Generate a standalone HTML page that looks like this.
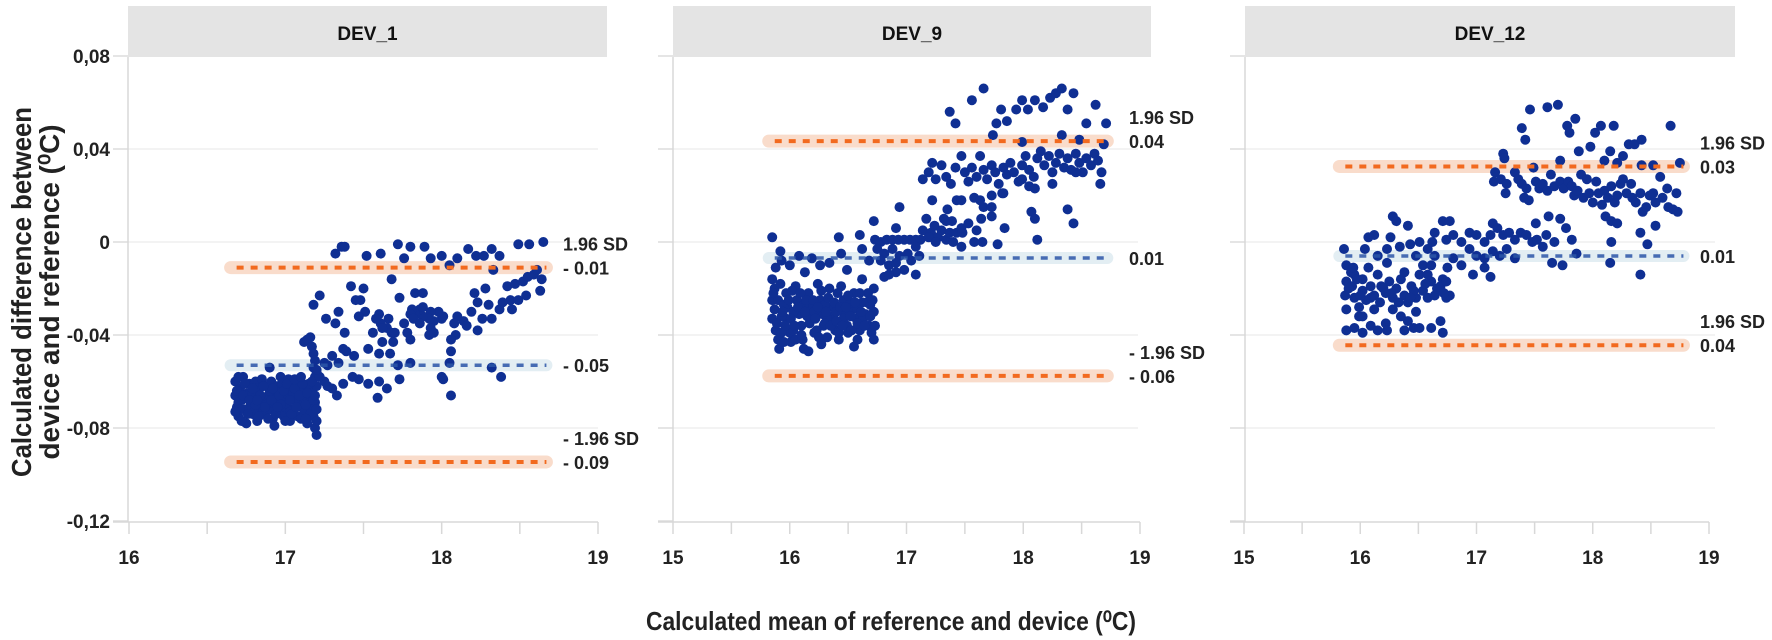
<!DOCTYPE html>
<html><head><meta charset="utf-8"><style>
html,body{margin:0;padding:0;background:#fff;}
svg{display:block;font-family:"Liberation Sans",sans-serif;}
</style></head><body>
<svg id="chart" width="1772" height="640" viewBox="0 0 1772 640">
<text x="31" y="292" transform="rotate(-90 31 292)" text-anchor="middle" font-size="28" font-weight="bold" fill="#222" textLength="370" lengthAdjust="spacingAndGlyphs">Calculated difference between</text>
<text x="59" y="292" transform="rotate(-90 59 292)" text-anchor="middle" font-size="28" font-weight="bold" fill="#222" textLength="335" lengthAdjust="spacingAndGlyphs">device and reference (⁰C)</text>
<text x="891" y="630" text-anchor="middle" font-size="26" font-weight="bold" fill="#222" textLength="490" lengthAdjust="spacingAndGlyphs">Calculated mean of reference and device (⁰C)</text>
</svg>
<script>
const yTicks = [0.08, 0.04, 0, -0.04, -0.08, -0.12];
const yTickLabels = ["0,08", "0,04", "0", "-0,04", "-0,08", "-0,12"];
const panelNames = ["DEV_1", "DEV_9", "DEV_12"];
const xTicks1 = [16, 17, 18, 19];
const xTicks2 = [15, 16, 17, 18, 19];
const xTicks3 = [15, 16, 17, 18, 19];
const upper1 = -0.011, mean1 = -0.053, lower1 = -0.0946;
const upper2 = 0.0434, mean2 = -0.0069, lower2 = -0.0576;
const upper3 = 0.0325, mean3 = -0.006, lower3 = -0.0444;
const lineRange1 = [16.65, 18.67];
const lineRange2 = [15.82, 18.72];
const lineRange3 = [15.82, 18.78];
const labels1 = [["1.96 SD", "- 0.01"], ["- 0.05"], ["- 1.96 SD", "- 0.09"]];
const labels2 = [["1.96 SD", "0.04"], ["0.01"], ["- 1.96 SD", "- 0.06"]];
const labels3 = [["1.96 SD", "0.03"], ["0.01"], ["1.96 SD", "0.04"]];

const points1 = [[16.68,-0.060],[16.68,-0.066],[16.69,-0.071],[16.70,-0.075],[16.71,-0.063],[16.72,-0.068],[16.73,-0.058],[16.74,-0.072],[16.75,-0.078],[16.76,-0.065],[16.77,-0.061],[16.78,-0.070],[16.79,-0.074],[16.80,-0.067],[16.81,-0.060],[16.82,-0.077],[16.83,-0.064],[16.84,-0.071],[16.85,-0.059],[16.86,-0.068],[16.87,-0.074],[16.88,-0.062],[16.89,-0.066],[16.90,-0.072],[16.91,-0.060],[16.92,-0.076],[16.93,-0.065],[16.94,-0.069],[16.95,-0.062],[16.96,-0.073],[16.97,-0.058],[16.98,-0.067],[16.99,-0.075],[17.00,-0.063],[17.01,-0.070],[17.02,-0.066],[17.03,-0.077],[17.04,-0.061],[17.05,-0.072],[17.06,-0.068],[17.07,-0.064],[17.08,-0.075],[17.09,-0.060],[17.10,-0.070],[17.11,-0.066],[17.12,-0.073],[17.13,-0.062],[17.14,-0.078],[17.15,-0.067],[17.16,-0.071],[17.17,-0.064],[17.18,-0.075],[17.19,-0.069],[17.19,-0.080],[17.20,-0.083],[17.20,-0.062],[17.19,-0.058],[16.70,-0.069],[16.80,-0.073],[16.90,-0.064],[17.00,-0.071],[17.10,-0.063],[16.75,-0.066],[16.85,-0.070],[16.95,-0.067],[17.05,-0.065],[17.15,-0.061],[16.72,-0.077],[16.78,-0.066],[16.88,-0.070],[16.98,-0.061],[17.08,-0.068],[17.17,-0.072],[16.82,-0.063],[16.92,-0.069],[17.02,-0.059],[17.12,-0.069],[16.93,-0.079],[17.03,-0.073],
[16.69,-0.064],[16.71,-0.072],[16.73,-0.066],[16.74,-0.061],[16.76,-0.074],[16.77,-0.068],[16.79,-0.063],[16.81,-0.070],[16.83,-0.075],[16.84,-0.066],[16.86,-0.062],[16.87,-0.071],[16.89,-0.076],[16.91,-0.068],[16.92,-0.063],[16.94,-0.074],[16.96,-0.066],[16.97,-0.070],[16.99,-0.064],[17.00,-0.077],[17.01,-0.061],[17.03,-0.068],[17.04,-0.074],[17.06,-0.063],[17.07,-0.071],[17.09,-0.066],[17.10,-0.076],[17.11,-0.061],[17.13,-0.070],[17.14,-0.065],[17.16,-0.074],[17.17,-0.060],[17.18,-0.068],[17.20,-0.072],[17.20,-0.077],[17.19,-0.066],[16.68,-0.073],[16.70,-0.058],[16.82,-0.068],[16.95,-0.071],[17.06,-0.059],[17.13,-0.076],
[17.12,-0.043],[17.14,-0.042],[17.16,-0.041],[17.17,-0.045],[17.18,-0.048],[17.19,-0.051],[17.18,-0.054],[17.20,-0.056],
[17.32,-0.005],[17.36,-0.002],[17.38,-0.002],[17.52,-0.006],[17.61,-0.005],[17.72,-0.001],[17.76,-0.007],[17.80,-0.002],[17.89,-0.002],[17.93,-0.007],[18.00,-0.006],[18.10,-0.007],[18.17,-0.003],[18.22,-0.006],[18.27,-0.006],[18.32,-0.003],[18.37,-0.006],[18.49,-0.001],[18.56,-0.001],[18.65,0.000],
[18.05,-0.010],[18.33,-0.012],[18.42,-0.019],[18.47,-0.018],[18.52,-0.017],[18.55,-0.015],[18.59,-0.014],[18.61,-0.012],[18.64,-0.016],[18.63,-0.021],[18.54,-0.023],[18.44,-0.025],[18.37,-0.029],[18.30,-0.027],[18.28,-0.020],[18.21,-0.022],[18.23,-0.026],[18.19,-0.030],[18.26,-0.033],[18.32,-0.033],[18.14,-0.034],[18.16,-0.036],[18.23,-0.038],[18.10,-0.032],[18.08,-0.035],[18.09,-0.040],[18.06,-0.042],[18.06,-0.047],[18.05,-0.052],[18.00,-0.058],[18.06,-0.066],[18.00,-0.033],[18.01,-0.032],[17.98,-0.030],[17.93,-0.030],[17.95,-0.034],[17.92,-0.033],[17.93,-0.037],[17.92,-0.040],[17.88,-0.032],[17.86,-0.029],[17.83,-0.031],[17.81,-0.029],[17.80,-0.031],[17.82,-0.033],[17.86,-0.035],[17.88,-0.028],[17.83,-0.022],[17.88,-0.022],[17.73,-0.024],[17.76,-0.035],[17.78,-0.039],[17.80,-0.042],[17.68,-0.016],[17.66,-0.033],[17.65,-0.037],[17.68,-0.039],[17.70,-0.039],[17.69,-0.043],[17.61,-0.035],[17.60,-0.031],[17.58,-0.033],[17.56,-0.039],[17.62,-0.037],[17.62,-0.043],[17.51,-0.030],[17.47,-0.032],[17.48,-0.025],[17.45,-0.025],[17.50,-0.020],[17.42,-0.019],[17.34,-0.030],[17.32,-0.035],[17.26,-0.033],[17.22,-0.023],[17.18,-0.027],[17.38,-0.039],[17.37,-0.046],[17.39,-0.047],[17.44,-0.049],[17.53,-0.046],[17.60,-0.048],[17.67,-0.048],[17.72,-0.053],[17.80,-0.052],[17.73,-0.059],[17.65,-0.063],[17.59,-0.067],[17.60,-0.060],[17.53,-0.061],[17.47,-0.059],[17.43,-0.058],[17.37,-0.061],[17.33,-0.066],[17.30,-0.063],[17.27,-0.062],[17.25,-0.060],[17.22,-0.058],[17.20,-0.055],[17.30,-0.049],[17.25,-0.052],[17.27,-0.053],[17.34,-0.052],[17.10,-0.058],[16.90,-0.054],[18.32,-0.054],[18.38,-0.058],[18.01,-0.059],[17.95,-0.039],[18.45,-0.029],[18.49,-0.025],[18.39,-0.026]];

const points2 = [[15.85,0.002],[15.92,-0.004],[15.88,-0.011],[15.93,-0.008],[16.08,-0.006],[16.19,-0.007],[16.00,-0.010],[16.13,-0.013],[16.26,-0.010],[16.34,-0.009],[16.44,-0.005],[16.49,-0.012],[16.62,-0.003],[16.68,-0.008],[16.62,-0.016],[16.72,-0.020],[15.85,-0.016],[15.87,-0.020],[15.85,-0.025],[15.87,-0.029],[15.85,-0.033],[15.88,-0.038],[15.90,-0.042],[15.91,-0.046],[15.97,-0.022],[15.98,-0.028],[15.97,-0.033],[16.00,-0.039],[16.01,-0.043],[16.05,-0.019],[16.06,-0.025],[16.08,-0.031],[16.10,-0.036],[16.11,-0.042],[16.16,-0.047],[16.16,-0.022],[16.18,-0.028],[16.19,-0.033],[16.21,-0.039],[16.24,-0.018],[16.26,-0.025],[16.28,-0.031],[16.29,-0.036],[16.32,-0.041],[16.34,-0.020],[16.36,-0.028],[16.37,-0.032],[16.39,-0.038],[16.42,-0.042],[16.44,-0.019],[16.46,-0.025],[16.47,-0.031],[16.49,-0.036],[16.50,-0.039],[16.55,-0.022],[16.54,-0.029],[16.57,-0.033],[16.55,-0.045],[16.60,-0.038],[16.62,-0.026],[16.65,-0.031],[16.67,-0.022],[16.68,-0.036],[16.70,-0.039],[16.72,-0.042],[16.72,-0.030],[15.90,-0.025],[15.93,-0.032],[16.03,-0.038],[16.15,-0.032],[16.32,-0.033],[16.46,-0.033],[16.63,-0.033],[16.23,-0.038],[16.42,-0.039],[16.05,-0.042],[15.93,-0.039],[15.95,-0.027],[16.03,-0.030],[16.12,-0.027],[16.21,-0.030],[16.30,-0.027],[16.40,-0.030],[16.52,-0.026],[16.58,-0.029],[16.69,-0.027],
[15.86,-0.022],[15.89,-0.035],[15.92,-0.018],[15.94,-0.030],[15.96,-0.036],[15.99,-0.025],[16.01,-0.033],[16.02,-0.021],[16.04,-0.036],[16.07,-0.028],[16.09,-0.022],[16.10,-0.040],[16.13,-0.030],[16.14,-0.025],[16.17,-0.035],[16.20,-0.025],[16.22,-0.033],[16.24,-0.028],[16.25,-0.041],[16.27,-0.021],[16.30,-0.035],[16.31,-0.030],[16.33,-0.024],[16.35,-0.036],[16.38,-0.026],[16.40,-0.034],[16.41,-0.022],[16.43,-0.028],[16.45,-0.036],[16.48,-0.028],[16.50,-0.023],[16.52,-0.032],[16.53,-0.038],[16.56,-0.026],[16.58,-0.035],[16.60,-0.022],[16.61,-0.030],[16.64,-0.036],[16.66,-0.026],[16.69,-0.032],[16.71,-0.025],[16.73,-0.036],[16.27,-0.044],[16.12,-0.046],[15.95,-0.043],[16.58,-0.042],
[16.73,0.001],[16.78,0.000],[16.83,0.001],[16.88,0.001],[16.93,0.001],[16.98,0.001],[17.03,0.001],[17.08,0.001],[17.12,0.001],[16.75,-0.003],[16.81,-0.005],[16.88,-0.003],[16.94,-0.006],[17.01,-0.005],[17.08,-0.002],[16.78,-0.008],[16.85,-0.010],[16.91,-0.009],[16.98,-0.012],[16.81,-0.015],[16.91,-0.013],[17.04,-0.008],[17.11,-0.006],
[17.14,0.005],[17.17,0.010],[17.21,0.004],[17.24,0.007],[17.27,0.002],[17.30,0.005],[17.34,0.001],[17.37,0.004],[17.40,0.000],[17.43,0.004],[17.47,-0.002],[17.19,0.002],[17.25,0.000],[17.32,0.010],[17.39,0.009],[17.48,0.004],
[16.94,0.015],[16.72,0.009],[16.91,0.006],[16.42,0.002],[16.60,0.003],[17.22,0.018],[17.35,0.014],[17.43,0.018],[17.58,0.019],[17.66,0.015],[17.73,0.020],[17.82,0.021],[18.07,0.013],[18.10,0.010],[18.12,0.001],[17.84,0.006],[17.78,-0.001],[18.38,0.014],[18.43,0.008],[17.65,0.000],[17.58,0.000],[17.08,-0.014],[16.85,-0.014],[17.64,0.010],[17.73,0.011],[17.60,0.005],[17.47,0.006],[17.34,0.009],[17.53,0.008],
[17.14,0.027],[17.19,0.030],[17.22,0.034],[17.25,0.027],[17.30,0.033],[17.34,0.028],[17.38,0.025],[17.42,0.032],[17.47,0.037],[17.50,0.030],[17.53,0.026],[17.56,0.032],[17.60,0.028],[17.63,0.037],[17.66,0.031],[17.69,0.027],[17.73,0.033],[17.76,0.030],[17.79,0.025],[17.83,0.032],[17.86,0.029],[17.89,0.034],[17.92,0.030],[17.96,0.026],[17.99,0.033],[18.02,0.037],[18.05,0.031],[18.09,0.028],[18.12,0.036],[18.15,0.039],[18.18,0.033],[18.22,0.037],[18.25,0.030],[18.28,0.034],[18.31,0.038],[18.35,0.032],[18.38,0.036],[18.41,0.031],[18.45,0.038],[18.48,0.034],[18.51,0.030],[18.54,0.036],[18.58,0.033],[18.61,0.038],[18.64,0.035],[18.67,0.030],[18.66,0.025],[18.69,0.042],[18.05,0.024],[18.10,0.023],[17.83,0.021],[17.63,0.018],[17.73,0.015],[17.47,0.018],[17.99,0.027],[18.25,0.025],[18.45,0.030],
[17.37,0.056],[17.42,0.051],[17.56,0.061],[17.66,0.066],[17.81,0.057],[17.86,0.052],[17.94,0.057],[17.99,0.061],[18.04,0.057],[18.10,0.061],[18.17,0.058],[18.23,0.062],[18.28,0.064],[18.33,0.066],[18.38,0.057],[18.43,0.064],[18.54,0.051],[18.62,0.059],[18.71,0.051],[17.74,0.046],[17.99,0.043],[18.33,0.046],[18.48,0.044],[17.77,0.051]];

const points3 = [[17.46,0.057],[17.61,0.058],[17.70,0.059],[17.39,0.049],[17.42,0.044],[17.78,0.050],[17.85,0.053],[17.80,0.047],[18.02,0.047],[18.07,0.050],[18.18,0.050],[17.98,0.041],[17.88,0.039],[18.15,0.039],[18.26,0.037],[18.31,0.042],[18.36,0.042],[18.42,0.044],[18.67,0.050],[17.23,0.038],[17.24,0.036],[17.72,0.035],[18.10,0.035],[18.21,0.034],[18.42,0.033],[18.52,0.033],[18.75,0.034],
[17.16,0.030],[17.15,0.026],[17.21,0.027],[17.26,0.025],[17.25,0.021],[17.33,0.030],[17.36,0.027],[17.39,0.025],[17.43,0.023],[17.41,0.019],[17.45,0.018],[17.49,0.032],[17.51,0.026],[17.54,0.023],[17.57,0.025],[17.61,0.022],[17.64,0.029],[17.67,0.024],[17.72,0.026],[17.75,0.023],[17.79,0.026],[17.82,0.024],[17.84,0.020],[17.87,0.022],[17.90,0.029],[17.92,0.019],[17.95,0.027],[17.97,0.021],[18.00,0.017],[18.03,0.026],[18.05,0.021],[18.08,0.016],[18.10,0.022],[18.13,0.019],[18.16,0.024],[18.19,0.017],[18.21,0.020],[18.24,0.025],[18.26,0.027],[18.29,0.021],[18.33,0.025],[18.34,0.019],[18.37,0.017],[18.41,0.021],[18.43,0.013],[18.46,0.015],[18.49,0.020],[18.52,0.021],[18.54,0.017],[18.54,0.007],[18.58,0.028],[18.60,0.019],[18.64,0.023],[18.65,0.015],[18.69,0.014],[18.72,0.021],[18.73,0.013],[18.11,0.011],[18.16,0.009],[18.21,0.008],[18.41,0.004],[17.62,0.011],[17.72,0.010],[17.77,0.006],[17.82,0.001],[18.16,0.000],[18.47,-0.001],[18.41,-0.014],[18.15,-0.009],[17.65,-0.009],[17.74,-0.010],[17.51,0.008],[17.60,0.003],[17.67,0.000],[17.86,-0.005],
[16.71,0.009],[16.77,0.009],[16.64,0.004],[16.74,0.001],[16.80,0.003],[16.87,0.000],[16.94,0.004],[17.00,0.003],[17.07,0.000],[17.12,0.003],[17.14,0.008],[17.18,0.006],[17.23,0.003],[17.28,0.004],[17.33,0.001],[17.38,0.004],[17.43,0.003],[17.48,0.000],[17.52,0.001],[17.57,-0.002],[16.94,-0.003],[17.00,-0.006],[17.07,-0.007],[17.14,-0.004],[17.20,-0.006],[17.26,-0.003],[17.33,-0.007],[16.97,-0.014],[17.12,-0.015],[17.07,-0.011],[16.87,-0.010],[16.80,-0.007],[16.75,-0.011],[16.71,-0.016],[16.64,-0.006],[16.58,-0.003],[16.62,0.000],[16.51,0.000],[16.43,-0.001],[16.41,0.007],[16.28,0.011],[16.31,0.009],[16.26,0.002],[16.12,0.003],[16.04,-0.003],[16.15,-0.006],[16.23,-0.003],[16.34,-0.002],[16.48,-0.006],[16.54,-0.010],[16.61,-0.010],
[15.86,-0.003],[15.88,-0.010],[15.92,-0.013],[15.88,-0.017],[15.93,-0.019],[15.87,-0.023],[15.95,-0.024],[15.88,-0.029],[15.99,-0.028],[16.02,-0.016],[16.07,-0.011],[16.09,-0.019],[16.12,-0.023],[16.15,-0.014],[16.17,-0.026],[16.22,-0.022],[16.25,-0.017],[16.28,-0.024],[16.31,-0.020],[16.35,-0.016],[16.38,-0.023],[16.41,-0.026],[16.44,-0.019],[16.48,-0.024],[16.51,-0.014],[16.54,-0.021],[16.58,-0.024],[16.61,-0.017],[16.64,-0.023],[16.69,-0.019],[16.74,-0.024],[16.12,-0.029],[16.28,-0.029],[16.48,-0.030],[15.99,-0.032],[15.88,-0.038],[15.95,-0.037],[16.02,-0.039],[16.09,-0.036],[16.15,-0.038],[16.22,-0.035],[16.23,-0.038],[16.38,-0.038],[16.41,-0.034],[16.46,-0.037],[16.51,-0.037],[16.61,-0.037],[16.71,-0.039],[16.69,-0.034],[16.35,-0.032],[16.02,-0.032],[16.09,-0.024],[15.95,-0.014],[16.02,-0.021],[15.94,-0.011],[16.18,-0.019],[16.38,-0.013],[16.58,-0.014],[16.74,-0.017],[16.77,-0.023],[16.23,-0.009],[16.07,0.002],
[15.90,-0.020],[15.97,-0.016],[16.05,-0.025],[16.20,-0.020],[16.33,-0.026],[16.46,-0.021],[16.56,-0.018],[16.66,-0.020],[16.72,-0.022],[16.00,-0.023],[16.27,-0.022],[16.43,-0.024]];

const NS = "http://www.w3.org/2000/svg";
const svg = document.getElementById("chart");
function mk(tag, attrs, parent) {
  const e = document.createElementNS(NS, tag);
  for (const k in attrs) e.setAttribute(k, attrs[k]);
  (parent || svg).appendChild(e);
  return e;
}
function yScale(v) { return 242 - v * 2325; }

const panels = [
  {name: panelNames[0], left: 128, headerRight: 607, gridRight: 598, x0: 129, xmin: 16, xmax: 19, ticks: xTicks1, pts: points1, lines: [upper1, mean1, lower1], range: lineRange1, labels: labels1, labelX: 563, showY: true},
  {name: panelNames[1], left: 673, headerRight: 1151, gridRight: 1138, x0: 673, xmin: 15, xmax: 19, ticks: xTicks2, pts: points2, lines: [upper2, mean2, lower2], range: lineRange2, labels: labels2, labelX: 1129, showY: false},
  {name: panelNames[2], left: 1245, headerRight: 1735, gridRight: 1715, x0: 1244, xmin: 15, xmax: 19, ticks: xTicks3, pts: points3, lines: [upper3, mean3, lower3], range: lineRange3, labels: labels3, labelX: 1700, showY: false}
];
const x1Px = [598, 1140, 1709];

panels.forEach((p, i) => {
  const g = mk("g", {});
  
  
  const xs = v => p.x0 + (v - p.xmin) * (x1Px[i] - p.x0) / (p.xmax - p.xmin);
  const hdr = mk("rect", {x: p.left, y: 6, width: p.headerRight - p.left, height: 51, fill: "#e4e4e4"}, g);
  
  
  const ht = mk("text", {x: (p.left + p.headerRight) / 2, y: 40, "text-anchor": "middle", "font-size": 19, "font-weight": "bold", fill: "#111"}, g);
  ht.textContent = p.name;
  
  
  yTicks.forEach((t, k) => {
    const y = yScale(t);
    if (k > 0 && k < yTicks.length - 1) {
      const gl = mk("line", {x1: p.left, x2: p.gridRight, y1: y, y2: y, stroke: "#efefef", "stroke-width": 1.5}, g);
      
      
    }
    const tk = mk("line", {x1: p.left - 15, x2: p.left, y1: y, y2: y, stroke: "#dcdcdc", "stroke-width": 1.5}, g);
    
    
    if (p.showY) {
      const tl = mk("text", {x: p.left - 18, y: y + 7, "text-anchor": "end", "font-size": 19, "font-weight": "bold", fill: "#222"}, g);
      tl.textContent = yTickLabels[k];
      
      
    }
  });
  const ya = mk("line", {x1: p.left, x2: p.left, y1: 57, y2: 522, stroke: "#d8d8d8", "stroke-width": 1.5}, g);
  
  
  const xa = mk("line", {x1: p.left - 15, x2: xs(p.xmax), y1: 522, y2: 522, stroke: "#d8d8d8", "stroke-width": 1.5}, g);
  
  
  for (let v = p.xmin; v <= p.xmax + 0.001; v += 0.5) {
    const mt = mk("line", {x1: xs(v), x2: xs(v), y1: 522, y2: 534, stroke: "#d8d8d8", "stroke-width": 1.5}, g);
    
    
  }
  p.ticks.forEach(t => {
    const tl = mk("text", {x: xs(t), y: 564, "text-anchor": "middle", "font-size": 19, "font-weight": "bold", fill: "#222"}, g);
    tl.textContent = String(t);
    
    
  });
  const styles = [
    {band: "#f9dccb", col: "#f26a1f", dash: "7 7", w: 4, bw: 13},
    {band: "#e3eef3", col: "#2c56a8", dash: "7 7", w: 3.5, bw: 12},
    {band: "#f9dccb", col: "#f26a1f", dash: "7 7", w: 4, bw: 13}
  ];
  const names = ["upper-limit-of-agreement", "mean-difference-line", "lower-limit-of-agreement"];
  p.lines.forEach((v, k) => {
    const s = styles[k];
    const y = yScale(v);
    const b = mk("line", {x1: xs(p.range[0]), x2: xs(p.range[1]), y1: y, y2: y, stroke: s.band, "stroke-width": s.bw, "stroke-linecap": "round"}, g);
    
    
  });
  const pg = mk("g", {fill: "#0f2f93"}, g);
  
  
  p.pts.forEach(pt => {
    const c = mk("circle", {cx: xs(pt[0]).toFixed(1), cy: yScale(pt[1]).toFixed(1), r: 5}, pg);
    
    
  });
  p.lines.forEach((v, k) => {
    const s = styles[k];
    const y = yScale(v);
    const l = mk("line", {x1: xs(p.range[0]) + 6, x2: xs(p.range[1]), y1: y, y2: y, stroke: s.col, "stroke-width": s.w, "stroke-dasharray": s.dash, opacity: k === 1 ? 0.85 : 1}, g);
    
    
    const lab = p.labels[k];
    lab.forEach((txt, j) => {
      const yy = lab.length === 2 ? (j === 0 ? y - 17 : y + 7) : y + 7;
      const t = mk("text", {x: p.labelX, y: yy, "font-size": 18, "font-weight": "bold", fill: "#222"}, g);
      t.textContent = txt;
      
      
    });
  });
});
</script>
</body></html>
